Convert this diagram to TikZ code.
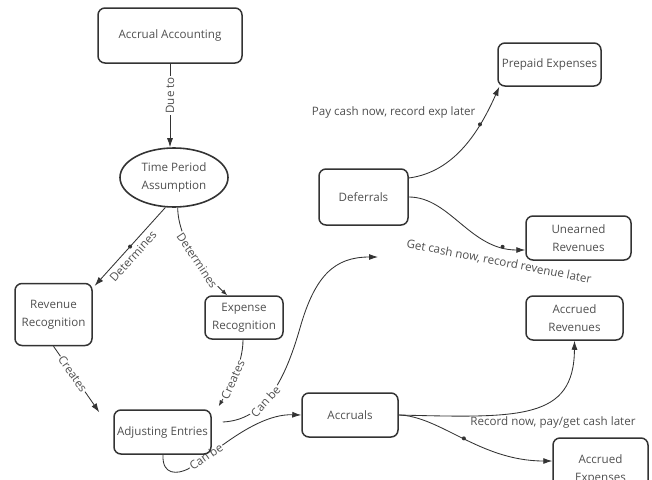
\documentclass[tikz,border=0pt]{standalone}
\usepackage{fontspec}
\setmainfont{Open Sans}
\usetikzlibrary{shapes.geometric,arrows.meta}
\definecolor{ln}{HTML}{333333}
\definecolor{tx}{HTML}{505050}
\newcommand{\dgfont}{\fontsize{11.6}{17.5}\selectfont}
\pgfdeclarelayer{bg}
\pgfsetlayers{bg,main}
\begin{document}
\begin{tikzpicture}[x=1pt,y=-1pt,
  box/.style={draw=ln, line width=1.5pt, rounded corners=7pt, align=center, text=tx, font=\dgfont, inner sep=2pt},
  ell/.style={ellipse, draw=ln, line width=1.6pt, align=center, text=tx, font=\dgfont, inner sep=0pt},
  edge/.style={draw=ln, line width=0.85pt, -{Latex[length=9pt,width=6pt]}},
  smalltip/.style={-{Latex[length=6pt,width=4.5pt]}},
  lbl/.style={fill=white, text=tx, font=\dgfont, inner sep=1pt},
  freelbl/.style={text=tx, font=\dgfont, inner sep=1pt},
  dotmark/.style={circle, fill=ln, inner sep=0pt, minimum size=4pt}]
\clip (0,0) rectangle (652,479);

% nodes
\node[box, minimum width=144pt, minimum height=55pt] (acc) at (170,35.5) {Accrual Accounting};
\node[ell, minimum width=108pt, minimum height=59pt] (tpa) at (174,177.5) {Time Period\\Assumption};
\node[box, minimum width=77pt, minimum height=62pt] (rev) at (53.5,314.5) {Revenue\\Recognition};
\node[box, minimum width=78pt, minimum height=43pt] (exp) at (244,317.5) {Expense\\Recognition};
\node[box, minimum width=97pt, minimum height=44pt] (adj) at (162.5,432) {Adjusting Entries};
\node[box, minimum width=96pt, minimum height=44pt] (acr) at (350,415) {Accruals};
\node[box, minimum width=89pt, minimum height=56pt] (def) at (363.5,197) {Deferrals};
\node[box, minimum width=103pt, minimum height=43pt] (pre) at (549.5,64.5) {Prepaid Expenses};
\node[box, minimum width=105pt, minimum height=44pt] (une) at (578.5,238) {Unearned\\Revenues};
\node[box, minimum width=97pt, minimum height=44pt] (arv) at (574.5,318) {Accrued\\Revenues};
\node[box, minimum width=95pt, minimum height=63pt] (aex) at (600.5,469.5) {Accrued\\Expenses};
\coordinate (defend) at (378,257);

\begin{pgfonlayer}{bg}
\fill[white] (0,0) rectangle (652,479);
% Due to
\draw[edge] (acc.south) -- node[lbl, rotate=90, pos=0.38]{Due to} (acc.south |- tpa.north);
% Determines (left)
\draw[edge] (tpa.254) -- node[dotmark, pos=0.5]{} node[freelbl, sloped, below=3pt, pos=0.55]{Determines} ([shift={(2,3)}]rev.north east);
% Determines (right)
\draw[edge, smalltip] (tpa.277) .. controls (178,240) and (205,275) .. node[lbl, sloped, pos=0.55]{Determines} (exp.127);
% Creates (left)
\draw[edge] (rev.south) -- node[lbl, sloped, pos=0.42]{Creates} ([shift={(-14,3)}]adj.north west);
% Creates (right)
\draw[edge, smalltip] ([shift={(-1,0)}]exp.south) .. controls (243,365) and (228,390) .. node[lbl, sloped, pos=0.55]{Creates} ([shift={(7,-3)}]adj.north east);
% Can be (to deferrals)
\draw[edge] ([shift={(11,-10)}]adj.east) .. controls (265,420) and (285,380) .. (300,328) node[lbl, sloped, pos=0.42]{Can be} .. controls (315,275) and (335,257) .. (defend);
% Can be (to accruals)
\draw[edge] ([shift={(0.5,0)}]adj.south) .. controls (162,476) and (178,474) .. (188,469) -- node[lbl, sloped]{Can be} (224,444) .. controls (245,429) and (270,414) .. (acr.west);
% Deferrals -> Prepaid
\draw[edge] ([shift={(0,-19)}]def.east) .. controls (455,172) and (480,130) .. node[dotmark, pos=0.7]{} node[freelbl, pos=0.8, left=10pt]{Pay cash now, record exp later} ([shift={(2,0)}]pre.south west);
% Deferrals -> Unearned
\draw[edge] (def.east) .. controls (450,197) and (470,250) .. node[dotmark, pos=0.85]{} ([shift={(0,12)}]une.west);
% Accruals -> Accrued Revenues
\draw[edge] (acr.east) .. controls (520,418) and (574,420) .. (arv.south);
% Accruals -> Accrued Expenses
\draw[edge] (acr.east) .. controls (440,416) and (480,461) .. node[dotmark, pos=0.5]{} ([shift={(0,-8.5)}]aex.west);
\end{pgfonlayer}

\node[freelbl, rotate=-11] (getlbl) at (499,262) {Get cash now, record revenue later};
\node[freelbl] (reclbl) at (553,422) {Record now, pay/get cash later};
\end{tikzpicture}
\end{document}
